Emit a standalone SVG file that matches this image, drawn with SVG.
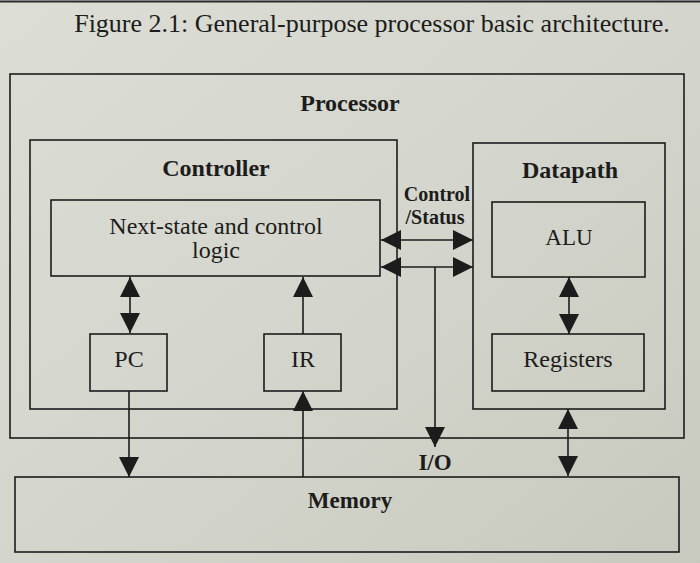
<svg xmlns="http://www.w3.org/2000/svg" width="700" height="563" viewBox="0 0 700 563">
<defs>
<linearGradient id="bg" x1="0" y1="0" x2="1" y2="1">
<stop offset="0" stop-color="#dcddd4"/>
<stop offset="0.5" stop-color="#d4d5cc"/>
<stop offset="1" stop-color="#c8c9be"/>
</linearGradient>
<marker id="ah" markerUnits="userSpaceOnUse" markerWidth="20" markerHeight="20" refX="20" refY="10" orient="auto-start-reverse" viewBox="0 0 20 20">
<path d="M0,0 L20,10 L0,20 Z" fill="#1c1c1c"/>
</marker>
</defs>
<style>
.box{fill:none;stroke:#1c1c1c;stroke-width:1.6}
.ln{fill:none;stroke:#1c1c1c;stroke-width:1.6}
.t{font-family:"Liberation Serif","Times New Roman",serif;fill:#1c1c1c;text-anchor:middle}
.b{font-weight:bold}
</style>
<rect x="0" y="0" width="700" height="563" fill="url(#bg)"/>
<line x1="0" y1="1.5" x2="700" y2="1.5" stroke="#2a2a2a" stroke-width="2"/>
<text class="t" x="372" y="32" font-size="26">Figure 2.1: General-purpose processor basic architecture.</text>

<g id="processor">
<rect class="box" x="10" y="74" width="674" height="364"/>
<text class="t b" x="350" y="111" font-size="24">Processor</text>
</g>
<g id="controller">
<rect class="box" x="30" y="140" width="367" height="269"/>
<text class="t b" x="216" y="176" font-size="24">Controller</text>
</g>
<g id="nextstate">
<rect class="box" x="51" y="200" width="329" height="76"/>
<text class="t" x="216" y="234" font-size="24">Next-state and control</text>
<text class="t" x="216" y="258" font-size="24">logic</text>
</g>
<g id="pc">
<rect class="box" x="90" y="334" width="77" height="57"/>
<text class="t" x="129" y="367" font-size="24">PC</text>
</g>
<g id="ir">
<rect class="box" x="264" y="334" width="77" height="57"/>
<text class="t" x="303" y="367" font-size="24">IR</text>
</g>
<g id="datapath">
<rect class="box" x="473" y="143" width="192" height="266"/>
<text class="t b" x="570" y="178" font-size="24">Datapath</text>
</g>
<g id="alu">
<rect class="box" x="492" y="202" width="153" height="75"/>
<text class="t" x="569" y="245" font-size="23">ALU</text>
</g>
<g id="registers">
<rect class="box" x="492" y="334" width="152" height="57"/>
<text class="t" x="568" y="367" font-size="24">Registers</text>
</g>
<g id="memory">
<rect class="box" x="15" y="477" width="664" height="75"/>
<text class="t b" x="350" y="508" font-size="23">Memory</text>
</g>
<g id="io-label">
<text class="t b" x="435" y="470" font-size="23">I/O</text>
</g>
<g id="cs-label">
<text class="t b" x="437" y="201" font-size="20">Control</text>
<text class="t b" x="435" y="224" font-size="20">/Status</text>
</g>

<g id="connectors">
<line class="ln" x1="381" y1="240" x2="473" y2="240" marker-start="url(#ah)" marker-end="url(#ah)"/>
<line class="ln" x1="381" y1="267" x2="473" y2="267" marker-start="url(#ah)" marker-end="url(#ah)"/>
<line class="ln" x1="435" y1="267" x2="435" y2="447" marker-end="url(#ah)"/>
<line class="ln" x1="130" y1="277" x2="130" y2="333" marker-start="url(#ah)" marker-end="url(#ah)"/>
<line class="ln" x1="303" y1="334" x2="303" y2="277" marker-end="url(#ah)"/>
<line class="ln" x1="129" y1="391" x2="129" y2="477" marker-end="url(#ah)"/>
<line class="ln" x1="303" y1="477" x2="303" y2="391" marker-end="url(#ah)"/>
<line class="ln" x1="569" y1="277" x2="569" y2="334" marker-start="url(#ah)" marker-end="url(#ah)"/>
<line class="ln" x1="568" y1="409" x2="568" y2="476" marker-start="url(#ah)" marker-end="url(#ah)"/>
</g>
</svg>
